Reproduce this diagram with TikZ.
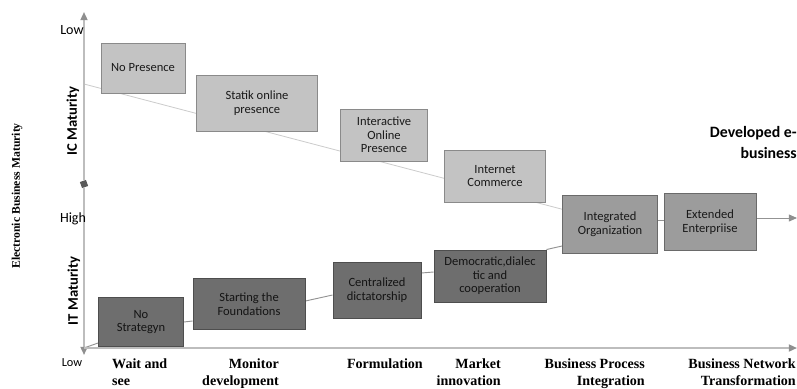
\documentclass[tikz,border=0pt]{standalone}
\usepackage{fontspec}
\setmainfont{Liberation Serif}
\setsansfont{Carlito}
\usepackage{tikz}
\usetikzlibrary{arrows.meta,backgrounds}

\definecolor{axisgray}{HTML}{BDBDBD}
\definecolor{tipgray}{HTML}{8F8F8F}
\definecolor{icfill}{HTML}{C3C3C3}
\definecolor{icedge}{HTML}{8A8A8A}
\definecolor{itfill}{HTML}{6E6E6E}
\definecolor{itedge}{HTML}{4E4E4E}
\definecolor{midfill}{HTML}{9C9C9C}
\definecolor{midedge}{HTML}{6A6A6A}

\tikzset{
  icbox/.style={draw=icedge, fill=icfill, line width=0.8pt, inner sep=0pt, align=center,
    font=\sffamily\fontsize{10.7}{11.6}\selectfont, text=black!90},
  itbox/.style={icbox, draw=itedge, fill=itfill, text=black!92},
  midbox/.style={icbox, draw=midedge, fill=midfill},
  axis/.style={draw=axisgray, line width=1.5pt, -{Triangle[length=7pt,width=6pt,color=tipgray]}},
  icline/.style={draw=gray!40, line width=0.7pt},
  itline/.style={draw=gray!85, line width=0.8pt},
  stage/.style={font=\bfseries\fontsize{12}{14}\selectfont, align=right, inner sep=0pt},
  levellabel/.style={font=\sffamily\fontsize{12}{14}\selectfont, inner sep=0pt},
  maturity/.style={font=\sffamily\bfseries\fontsize{12.5}{14}\selectfont, rotate=90, inner sep=0pt}
}

\begin{document}
\begin{tikzpicture}[x=0.03cm,y=-0.03cm]
   \useasboundingbox (0,0) rectangle (797,388);

   % axes
   \draw (84,184) node[fill=gray!70!black, minimum size=5.5pt, inner sep=0pt, rotate=20] (mid) {};
   \coordinate (top) at (84,12);
   \coordinate (bottom) at (84,355);
   \coordinate (origin) at (84,348);
   \coordinate (right) at (797,348);
   \draw[axis] (mid) -- (top);
   \draw[axis] (mid) -- (bottom);
   \draw[axis] (origin) -- (right);

   \draw (72,30) node[levellabel] (lowtop) {Low};
   \draw (73,219) node[levellabel] (high) {High};
   \draw (72,363) node[levellabel, font=\sffamily\fontsize{10.5}{12}\selectfont] (lowbot) {Low};
   \draw (73,121) node[maturity] (ic) {IC Maturity};
   \draw (74,291) node[maturity] (it) {IT Maturity};
   \draw (17,196) node[rotate=90, font=\bfseries\fontsize{10}{12}\selectfont] (ebm) {Electronic Business Maturity};

   % IC maturity boxes
   \draw (143,68) node[icbox, minimum width=2.52cm, minimum height=1.5cm] (nopres) {No Presence};
   \draw (257,103) node[icbox, minimum width=3.63cm, minimum height=1.68cm] (statik) {Statik online\\presence};
   \draw (384,135) node[icbox, minimum width=2.61cm, minimum height=1.56cm] (interact) {Interactive\\Online\\Presence};
   \draw (495,176) node[icbox, minimum width=3.03cm, minimum height=1.56cm] (internet) {Internet\\Commerce};

   % IT maturity boxes
   \draw (141,322) node[itbox, minimum width=2.55cm, minimum height=1.47cm] (nostrat) {No\\Strategyn};
   \draw (249,304) node[itbox, minimum width=3.36cm, minimum height=1.53cm] (start) {Starting the\\Foundations};
   \draw (377,290) node[itbox, minimum width=2.64cm, minimum height=1.68cm] (central) {Centralized\\dictatorship};
   \draw (490,276) node[itbox, minimum width=3.36cm, minimum height=1.56cm] (democ) {Democratic,dialec\\tic and\\cooperation};

   % developed e-business
   \draw (610,224) node[midbox, minimum width=2.85cm, minimum height=1.74cm] (integ) {Integrated\\Organization};
   \draw (710,222) node[midbox, minimum width=2.76cm, minimum height=1.71cm] (ext) {Extended\\Enterpriise};
   \coordinate (devend) at (797,218);
   \draw (797,126) node[anchor=north east, align=right, inner sep=0pt,
      font=\sffamily\bfseries\fontsize{13.5}{18}\selectfont] (developed) {Developed e-\\business};

   \begin{pgfonlayer}{background}
     \coordinate (icstart) at (84,84);
     \draw[icline] (icstart) -- ([shift={(3,-14)}]integ.west);
     \draw[itline] (origin) -- ([shift={(0,21)}]nostrat.west);
     \draw[itline] (nostrat.east) -- ([shift={(0,17)}]start.west);
     \draw[itline] ([shift={(0,-3)}]start.east) -- ([shift={(0,5)}]central.west);
     \draw[itline] ([shift={(0,-17)}]central.east) -- ([shift={(0,-4)}]democ.west);
     \draw[itline] (democ.north east) -- ([shift={(0,22)}]integ.west);
     \draw[itline] ([shift={(0,-4)}]integ.east) -- ([shift={(0,-2)}]ext.west);
     \draw[itline, -{Triangle[length=7pt,width=6pt,color=tipgray]}] ([shift={(0,-4)}]ext.east) -- (devend);
   \end{pgfonlayer}

   % stages
   \draw (112,359) node[stage, anchor=north west, align=left] (wait) {Wait and\\see};
   \draw (279,359) node[stage, anchor=north east] (monitor) {Monitor\\development};
   \draw (423,359) node[stage, anchor=north east] (formul) {Formulation};
   \draw (501,359) node[stage, anchor=north east] (market) {Market\\innovation};
   \draw (645,359) node[stage, anchor=north east] (bpi) {Business Process\\Integration};
   \draw (796,359) node[stage, anchor=north east] (bnt) {Business Network\\Transformation};

\end{tikzpicture}
\end{document}
